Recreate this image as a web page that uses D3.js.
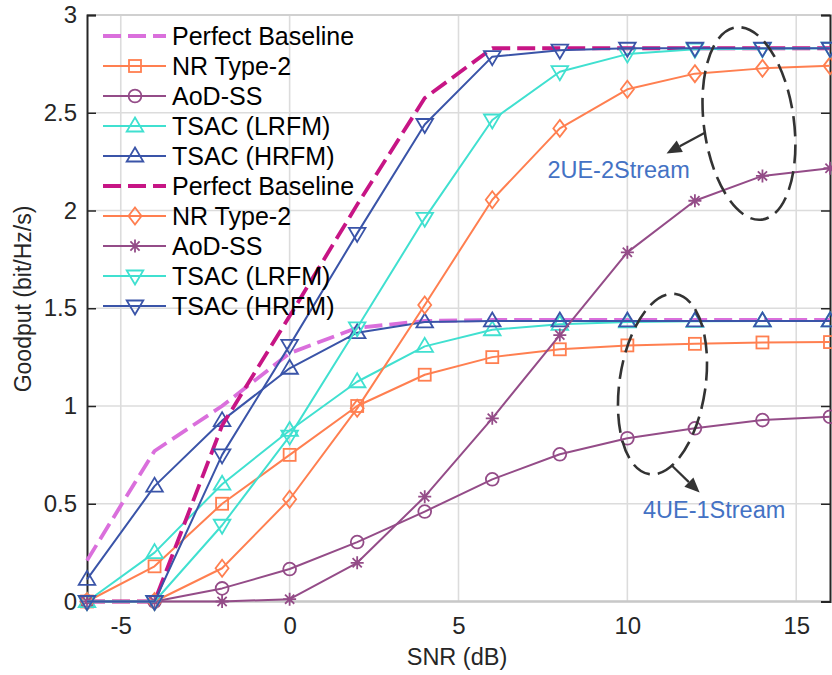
<!DOCTYPE html>
<html><head><meta charset="utf-8">
<script src="https://cdn.jsdelivr.net/npm/d3@7"></script>
<style>body{margin:0;background:#fff}svg{display:block}</style>
</head><body><svg id="c" width="832" height="675"></svg>
<script>
const snr = [-6,-4,-2,0,2,4,6,8,10,12,14,16];
const xTicks = [-5,0,5,10,15];
const xTickLabels = ["-5","0","5","10","15"];
const yTicks = [0,0.5,1,1.5,2,2.5,3];
const yTickLabels = ["0","0.5","1","1.5","2","2.5","3"];
// 4UE-1Stream
const base4 = [0.21,0.77,1.0,1.27,1.40,1.435,1.44,1.44,1.44,1.44,1.44,1.44];
const nr4   = [0,0.18,0.50,0.75,1.0,1.16,1.25,1.29,1.31,1.318,1.325,1.327];
const aod4  = [0,0,0.067,0.166,0.304,0.46,0.625,0.753,0.835,0.886,0.928,0.945];
const lr4   = [0,0.25,0.60,0.875,1.124,1.305,1.39,1.418,1.43,1.433,1.435,1.435];
const hr4   = [0.113,0.59,0.925,1.193,1.375,1.43,1.435,1.435,1.435,1.435,1.435,1.435];
// 2UE-2Stream
const base2 = [0,0,0.9,1.46,2.03,2.575,2.83,2.83,2.83,2.83,2.83,2.83];
const nr2   = [0,0,0.17,0.523,0.988,1.517,2.055,2.42,2.62,2.70,2.727,2.74];
const aod2  = [0,0,0,0.012,0.198,0.536,0.937,1.363,1.786,2.05,2.177,2.216];
const lr2   = [0,0,0.39,0.846,1.40,1.96,2.463,2.71,2.80,2.825,2.828,2.83];
const hr2   = [0,0,0.75,1.31,1.883,2.44,2.787,2.82,2.83,2.83,2.83,2.83];

const legendLabels = ["Perfect Baseline","NR Type-2","AoD-SS","TSAC (LRFM)","TSAC (HRFM)",
                      "Perfect Baseline","NR Type-2","AoD-SS","TSAC (LRFM)","TSAC (HRFM)"];
const annoLabels = ["2UE-2Stream","4UE-1Stream"];

const C = {violet:"#DA6FDC", orange:"#FF7F50", purple:"#944C88", cyan:"#40E0D0", blue:"#3A54A8", magenta:"#C71585"};
const series = [
  {v:base4, color:C.violet, dash:true, marker:null},
  {v:nr4, color:C.orange, marker:"square"},
  {v:aod4, color:C.purple, marker:"circle"},
  {v:lr4, color:C.cyan, marker:"up"},
  {v:hr4, color:C.blue, marker:"up"},
  {v:base2, color:C.magenta, dash:true, marker:null},
  {v:nr2, color:C.orange, marker:"diamond"},
  {v:aod2, color:C.purple, marker:"star"},
  {v:lr2, color:C.cyan, marker:"down"},
  {v:hr2, color:C.blue, marker:"down"},
];

const svg = d3.select("#c");
svg.append("rect").attr("width",832).attr("height",675).attr("fill","#fff");
const L=87, R=830, T=15, B=601.5;
const x = d3.scaleLinear().domain([-6,16]).range([L,R]);
const y = d3.scaleLinear().domain([0,3]).range([B,T]);
const FONT = "'Liberation Sans', Arial, Helvetica, sans-serif";
const TXT = "#262626";

// grid
const g = svg.append("g");
g.selectAll(".gx").data(xTicks).join("line").attr("x1",d=>x(d)).attr("x2",d=>x(d)).attr("y1",T).attr("y2",B)
  .attr("stroke","#dcdcdc").attr("stroke-width",1.6);
g.selectAll(".gy").data(yTicks).join("line").attr("x1",L).attr("x2",R).attr("y1",d=>y(d)).attr("y2",d=>y(d))
  .attr("stroke","#dcdcdc").attr("stroke-width",1.6);

// top/bottom axis lines (light)
svg.append("line").attr("x1",L).attr("x2",R).attr("y1",T).attr("y2",T).attr("stroke","#d0d0d0").attr("stroke-width",2);
svg.append("line").attr("x1",L).attr("x2",R).attr("y1",B).attr("y2",B).attr("stroke","#c8c8c8").attr("stroke-width",2.5);

// x axis labels via d3 axis
const xAxis = svg.append("g").attr("transform",`translate(0,${B})`)
  .call(d3.axisBottom(x).tickValues(xTicks).tickSize(0).tickPadding(15).tickFormat((d,i)=>xTickLabels[i]));
xAxis.select(".domain").remove();
xAxis.selectAll("text").attr("font-family",FONT).attr("font-size",24).attr("fill",TXT).attr("dy","0.71em");

// left y axis
const yAxisL = svg.append("g").attr("transform",`translate(${L},0)`)
  .call(d3.axisRight(y).tickValues(yTicks).tickSize(9).tickFormat((d,i)=>yTickLabels[i]));
yAxisL.select(".domain").attr("stroke",TXT).attr("stroke-width",2);
yAxisL.selectAll(".tick line").attr("stroke",TXT).attr("stroke-width",1.5);
yAxisL.selectAll("text").attr("x",-10).attr("text-anchor","end").attr("font-family",FONT).attr("font-size",24).attr("fill",TXT);
const yAxisR = svg.append("g").attr("transform",`translate(${R},0)`)
  .call(d3.axisLeft(y).tickValues(yTicks).tickSize(9).tickFormat(""));
yAxisR.select(".domain").attr("stroke",TXT).attr("stroke-width",2);
yAxisR.selectAll(".tick line").attr("stroke",TXT).attr("stroke-width",1.5);

// axis titles
svg.append("text").attr("x",457).attr("y",665).attr("text-anchor","middle").attr("font-family",FONT)
  .attr("font-size",23.5).attr("fill",TXT).text("SNR (dB)");
svg.append("text").attr("transform","translate(31,299) rotate(-90)").attr("text-anchor","middle").attr("font-family",FONT)
  .attr("font-size",23).attr("fill",TXT).text("Goodput (bit/Hz/s)");

// marker drawer
function drawMarker(sel, type, color){
  const sw = 1.8;
  if(type==="square") sel.append("rect").attr("x",-6).attr("y",-6).attr("width",12).attr("height",12);
  else if(type==="circle") sel.append("circle").attr("r",6.4);
  else if(type==="up") sel.append("path").attr("d","M0,-8.5L8.3,5.5L-8.3,5.5Z");
  else if(type==="down") sel.append("path").attr("d","M0,8.5L8.3,-5.5L-8.3,-5.5Z");
  else if(type==="diamond") sel.append("path").attr("d","M0,-8.5L6.5,0L0,8.5L-6.5,0Z");
  else if(type==="star") sel.append("path").attr("d","M0,-6.5V6.5M-6.5,0H6.5M-4.6,-4.6L4.6,4.6M-4.6,4.6L4.6,-4.6");
  sel.selectAll("*").attr("fill","none").attr("stroke",color).attr("stroke-width",sw);
}

const line = d3.line().x((d,i)=>x(snr[i])).y(d=>y(d));
const plot = svg.append("g");
series.forEach(s=>{
  const gs = plot.append("g");
  gs.append("path").attr("d",line(s.v)).attr("fill","none").attr("stroke",s.color)
    .attr("stroke-width",s.dash?3.8:2).attr("stroke-dasharray",s.dash?"18,7":null).attr("stroke-linejoin","round");
  if(s.marker){
    gs.selectAll(".m").data(s.v).join("g").attr("transform",(d,i)=>`translate(${x(snr[i])},${y(d)})`)
      .each(function(){ drawMarker(d3.select(this), s.marker, s.color); });
  }
});

// legend
const lg = svg.append("g");
legendLabels.forEach((lab,i)=>{
  const s = series[i];
  const cy = 36 + 30*i;
  lg.append("line").attr("x1",103).attr("x2",166).attr("y1",cy).attr("y2",cy).attr("stroke",s.color)
    .attr("stroke-width",s.dash?3.8:2).attr("stroke-dasharray",s.dash?"18,7":null);
  if(s.marker){ const m = lg.append("g").attr("transform",`translate(135,${cy})`); drawMarker(m,s.marker,s.color); }
  lg.append("text").attr("x",172).attr("y",cy+8.7).attr("font-family",FONT).attr("font-size",25).attr("fill","#000").text(lab);
});

// annotations
const ann = svg.append("g");
const dark = "#333333";
function ellipse(cx,cy,rx,ry,rot){
  ann.append("ellipse").attr("transform",`translate(${x(cx)},${y(cy)}) rotate(${rot})`).attr("rx",rx).attr("ry",ry)
    .attr("fill","none").attr("stroke",dark).attr("stroke-width",2.6).attr("stroke-dasharray","19,8");
}
function arrow(x1,y1,x2,y2){
  const px1=x(x1), py1=y(y1), px2=x(x2), py2=y(y2);
  const a = Math.atan2(py2-py1, px2-px1), hl=15, hw=6.5;
  const bx = px2 - hl*Math.cos(a), by = py2 - hl*Math.sin(a);
  ann.append("line").attr("x1",px1).attr("y1",py1).attr("x2",bx).attr("y2",by).attr("stroke",dark).attr("stroke-width",2.2);
  ann.append("path").attr("d",`M${px2},${py2}L${bx+hw*Math.sin(a)},${by-hw*Math.cos(a)}L${bx-hw*Math.sin(a)},${by+hw*Math.cos(a)}Z`)
    .attr("fill",dark);
}
ellipse(13.6,2.445,45,97,-7.7);
arrow(12.28,2.396,11.16,2.292);
ellipse(11.04,1.112,43,91,8.3);
arrow(11.30,0.698,12.14,0.557);
ann.append("text").attr("x",x(9.74)).attr("y",y(2.166)).attr("text-anchor","middle").attr("font-family",FONT)
  .attr("font-size",23.5).attr("fill","#4472C4").text(annoLabels[0]);
ann.append("text").attr("x",x(12.57)).attr("y",y(0.426)).attr("text-anchor","middle").attr("font-family",FONT)
  .attr("font-size",23.5).attr("fill","#4472C4").text(annoLabels[1]);
</script></body></html>
